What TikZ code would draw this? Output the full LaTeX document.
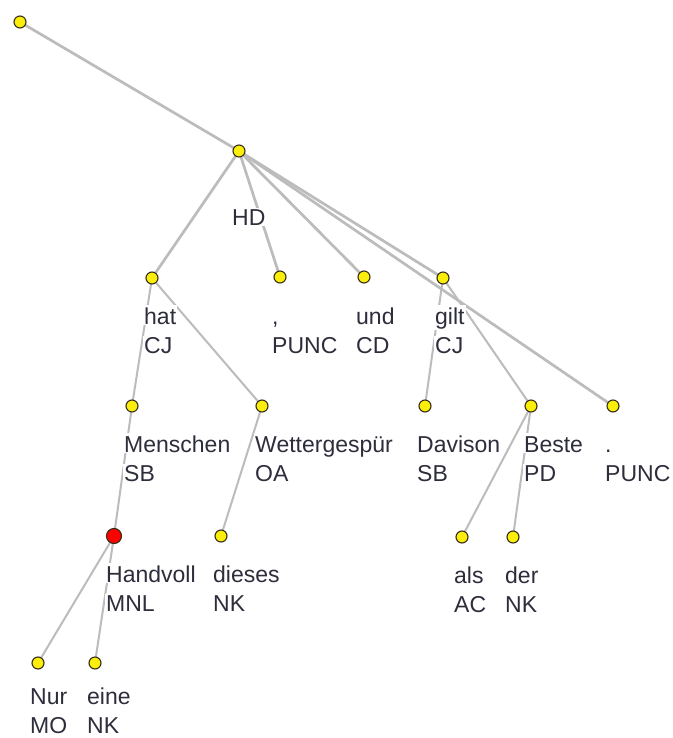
\documentclass[tikz,border=0pt]{standalone}
\usepackage{fontspec}
\setmainfont{Liberation Sans}
\definecolor{dotyellow}{RGB}{250,238,10}
\definecolor{dotline}{RGB}{55,45,20}
\definecolor{edgegray}{RGB}{188,188,188}
\definecolor{txt}{RGB}{45,45,60}
\pgfdeclarelayer{back}
\pgfdeclarelayer{bg}
\pgfsetlayers{back,bg,main}
\setlength{\fboxsep}{1pt}
\newcommand{\wordbox}[1]{\colorbox{white}{\rule{0pt}{18pt}#1}}
\newcommand{\funcbox}[1]{\colorbox{white}{#1}}
\newcommand{\twolines}[2]{\wordbox{#1}\\\funcbox{#2}}
\begin{document}
\begin{tikzpicture}[x=1pt,y=-1pt,
  edge/.style={draw=edgegray, line width=2pt},
  thick edge/.style={edge, line width=2.7pt},
  dot/.style={circle, draw=dotline, line width=1.1pt, fill=dotyellow, minimum size=12pt, inner sep=0pt},
  reddot/.style={dot, fill=red, minimum size=15pt},
  lbl/.style={anchor=north west, inner sep=0pt, align=left, text=txt, font=\fontsize{23}{29}\selectfont},
  hdlbl/.style={anchor=base west, inner sep=0pt, text=txt, font=\fontsize{23}{29}\selectfont}]
\begin{pgfonlayer}{back}
\fill[white] (0,0) rectangle (672,738);
\end{pgfonlayer}
\useasboundingbox (0,0) rectangle (672,738);
% nodes
\node[dot] (root) at (20,22) {};
\node[dot] (top) at (239,151) {};
\node[dot] (hat) at (152,278) {};
\node[dot] (comma) at (280,277) {};
\node[dot] (und) at (364,277) {};
\node[dot] (gilt) at (443,278) {};
\node[dot] (menschen) at (132,406) {};
\node[dot] (wetter) at (262,406) {};
\node[dot] (davison) at (425,406) {};
\node[dot] (beste) at (531,406) {};
\node[dot] (punkt) at (613,406) {};
\node[reddot] (handvoll) at (114,536) {};
\node[dot] (dieses) at (221,536) {};
\node[dot] (als) at (462,537) {};
\node[dot] (der) at (513,537) {};
\node[dot] (nur) at (38,663) {};
\node[dot] (eine) at (95,663) {};
% edges
\begin{pgfonlayer}{bg}
\draw[thick edge] (root.center) -- (top.center);
\draw[thick edge] (top.center) -- (hat.center);
\draw[thick edge] (top.center) -- (comma.center);
\draw[thick edge] (top.center) -- (und.center);
\draw[thick edge] (top.center) -- (gilt.center);
\draw[thick edge] (top.center) -- (punkt.center);
\draw[edge] (hat.center) -- (menschen.center);
\draw[edge] (hat.center) -- (wetter.center);
\draw[edge] (menschen.center) -- (handvoll.center);
\draw[edge] (handvoll.center) -- (nur.center);
\draw[edge] (handvoll.center) -- (eine.center);
\draw[edge] (wetter.center) -- (dieses.center);
\draw[edge] (gilt.center) -- (davison.center);
\draw[edge] (gilt.center) -- (beste.center);
\draw[edge] (beste.center) -- (als.center);
\draw[edge] (beste.center) -- (der.center);
\end{pgfonlayer}
% labels
\node[hdlbl] (Ltop) at (231,225) {\funcbox{HD}};
\node[lbl] (Lhat) at (143,305) {\twolines{hat}{CJ}};
\node[lbl] (Lcomma) at (271,305) {\twolines{,}{PUNC}};
\node[lbl] (Lund) at (355,305) {\twolines{und}{CD}};
\node[lbl] (Lgilt) at (434,305) {\twolines{gilt}{CJ}};
\node[lbl] (Lmenschen) at (123,433) {\twolines{Menschen}{SB}};
\node[lbl] (Lwetter) at (254,433) {\twolines{Wettergespür}{OA}};
\node[lbl] (Ldavison) at (416,433) {\twolines{Davison}{SB}};
\node[lbl] (Lbeste) at (523,433) {\twolines{Beste}{PD}};
\node[lbl] (Lpunkt) at (604,433) {\twolines{.}{PUNC}};
\node[lbl] (Lhandvoll) at (105,563) {\twolines{Handvoll}{MNL}};
\node[lbl] (Ldieses) at (212,563) {\twolines{dieses}{NK}};
\node[lbl] (Lals) at (453,564) {\twolines{als}{AC}};
\node[lbl] (Lder) at (504,564) {\twolines{der}{NK}};
\node[lbl] (Lnur) at (29,685) {\twolines{Nur}{MO}};
\node[lbl] (Leine) at (86,685) {\twolines{eine}{NK}};
\end{tikzpicture}
\end{document}
